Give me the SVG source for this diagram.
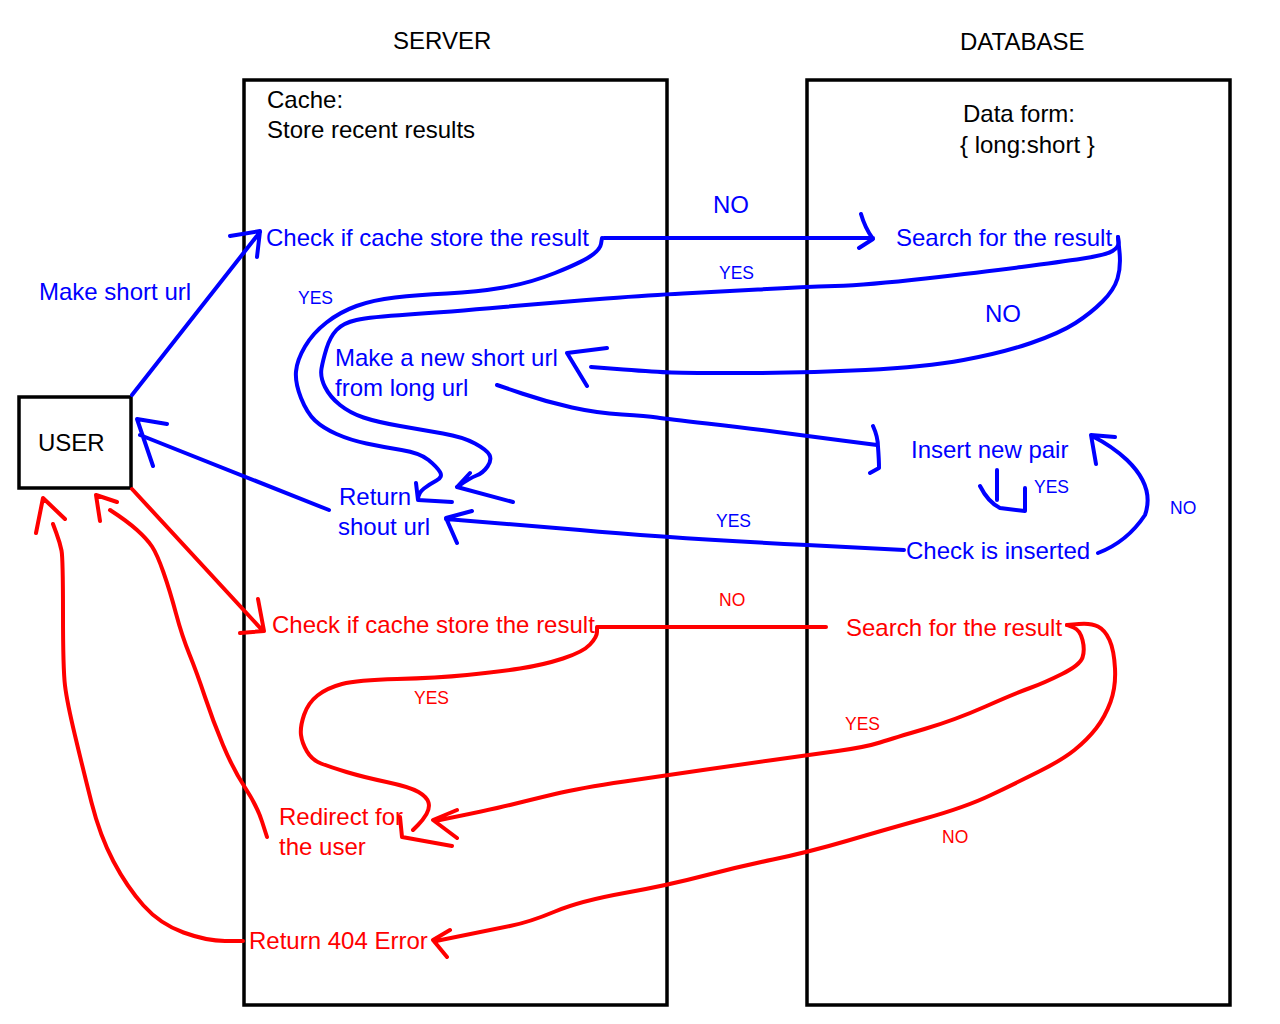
<svg xmlns="http://www.w3.org/2000/svg" width="1280" height="1024" viewBox="0 0 1280 1024">
<style>
text{font-family:"Liberation Sans",Arial,sans-serif;font-size:24px}
.k{fill:#000}
.bt{fill:#0000ff}
.rt{fill:#ff0000}
.s{font-size:17.5px}
.box{fill:none;stroke:#000;stroke-width:3.5}
.b{fill:none;stroke:#0000ff;stroke-width:4;stroke-linecap:round;stroke-linejoin:round}
.r{fill:none;stroke:#ff0000;stroke-width:4;stroke-linecap:round;stroke-linejoin:round}
</style>
<rect width="1280" height="1024" fill="#fff"/>
<g id="server">
<rect class="box" x="244" y="80" width="423" height="925"/>
<text class="k" x="393" y="49">SERVER</text>
<text class="k" x="267" y="108">Cache:</text>
<text class="k" x="267" y="138">Store recent results</text>
</g>
<g id="database">
<rect class="box" x="807" y="80" width="423" height="925"/>
<text class="k" x="960" y="50">DATABASE</text>
<text class="k" x="963" y="122">Data form:</text>
<text class="k" x="960" y="153">{ long:short }</text>
</g>
<g id="user">
<rect class="box" x="19" y="397" width="112" height="91"/>
<text class="k" x="38" y="451">USER</text>
</g>
<g id="blue-nodes">
<text class="bt" x="39" y="300">Make short url</text>
<text class="bt" x="266" y="246">Check if cache store the result</text>
<text class="bt" x="896" y="246">Search for the result</text>
<text class="bt" x="335" y="366">Make a new short url</text>
<text class="bt" x="335" y="396">from long url</text>
<text class="bt" x="911" y="458">Insert new pair</text>
<text class="bt" x="339" y="505">Return</text>
<text class="bt" x="338" y="535">shout url</text>
<text class="bt" x="906" y="559">Check is inserted</text>
</g>
<g id="red-nodes">
<text class="rt" x="272" y="633">Check if cache store the result</text>
<text class="rt" x="846" y="636">Search for the result</text>
<text class="rt" x="279" y="825">Redirect for</text>
<text class="rt" x="279" y="855">the user</text>
<text class="rt" x="249" y="949">Return 404 Error</text>
</g>
<g id="labels">
<text class="bt" x="713" y="213">NO</text>
<text class="bt s" x="719" y="279">YES</text>
<text class="bt s" x="298" y="304">YES</text>
<text class="bt" x="985" y="322">NO</text>
<text class="bt s" x="1034" y="493">YES</text>
<text class="bt s" x="1170" y="514">NO</text>
<text class="bt s" x="716" y="527">YES</text>
<text class="rt s" x="719" y="606">NO</text>
<text class="rt s" x="414" y="704">YES</text>
<text class="rt s" x="845" y="730">YES</text>
<text class="rt s" x="942" y="843">NO</text>
</g>
<g id="connectors">
<!-- blue -->
<path class="b" d="M132,395 L260,232 M230,236 L260,231 L257,257"/>
<path class="b" d="M604,238 L873,238 M861,214 Q865,228 873,239 L859,248"/>
<path class="b" d="M602,238 L601,244 Q600,250 590,256.5 Q580,263 555,273 Q530,283 503.5,287.5 Q477,292 447,293.5 Q417,295 395,297.5 Q373,300 356.5,306 Q340,312 326.5,322.5 Q313,333 305,346.5 Q297,360 296,371.5 Q295,383 301,398 Q307,413 315,420.5 Q323,428 336.5,434 Q350,440 366.5,443.5 Q383,447 401.5,450 Q420,453 428.5,460 Q437,467 440,472 Q443,477 436.5,480.5 Q430,484 424,488.5 Q418,493 418,500 M416,483 L418,500 L452,502"/>
<path class="b" d="M1118,237 L1118.5,242 Q1119,247 1112.5,251 Q1106,255 1083,258.5 Q1060,262 1021.5,267 Q983,272 925.5,278.5 Q868,285 835,286 Q802,287 758,289.5 Q714,292 683,293.5 Q652,295 606,298.5 Q560,302 503.5,307 Q447,312 408.5,314.5 Q370,317 356.5,320 Q343,323 336.5,330 Q330,337 326.5,348.5 Q323,360 321.5,368.5 Q320,377 325,387 Q330,397 340,405 Q350,413 363.5,417.5 Q377,422 400,426 Q423,430 443,433.5 Q463,437 475,443.5 Q487,450 489.5,455 Q492,460 487.5,466.5 Q483,473 476.5,475.5 Q470,478 457,487 M470,473 L457,487 L513,502"/>
<path class="b" d="M1118,237 L1119.5,252 Q1121,267 1117.5,278.5 Q1114,290 1102.5,301.5 Q1091,313 1075.5,323 Q1060,333 1031,343 Q1002,353 963.5,360 Q925,367 865.5,370 Q806,373 746.5,373 Q687,373 671.5,372.5 Q656,372 623.5,369.5 L591,367 M607,348 L567,353 L587,386"/>
<path class="b" d="M497,385 L522,393.5 Q547,402 572,407.5 Q597,413 622,414.5 Q647,416 657,417.5 Q667,419 707,423.5 Q747,428 777,432 Q807,436 842,440.5 L877,445 M873,426 Q878,437 878,447 Q879,460 879,468 L870,473"/>
<path class="b" d="M997,470 L997,500 M980,486 Q988,502 1000,508 L1025,511 L1025,488"/>
<path class="b" d="M1098,553 Q1127,542 1145,515 Q1155,487 1127,460 Q1112,446 1092,436 M1115,437 L1091,435 L1096,464"/>
<path class="b" d="M904,550 L807,545 Q667,538 580,530 L446,519 M472,511 L446,518 L457,543"/>
<path class="b" d="M329,510 L140,435 M167,424 L137,419 L153,466"/>
<!-- red -->
<path class="r" d="M132,489 L263,631 M258,599 L264,631 L240,633"/>
<path class="r" d="M598,627 L826,627"/>
<path class="r" d="M597,627 L597,632 Q597,637 590,644.5 Q583,652 563,658.5 Q543,665 520,668.5 Q497,672 467,675 Q437,678 397,679 Q357,680 342,684 Q327,688 317.5,695.5 Q308,703 304,715 Q300,727 301,735 Q302,743 307,751.5 Q312,760 321,763.5 Q330,767 346.5,772 Q363,777 386.5,782 Q410,787 418.5,792 Q427,797 428.5,802.5 Q430,808 426.5,814 Q423,820 418,825 L413,830 M400,817 L402,837 L452,846"/>
<path class="r" d="M1067,625 L1073.5,627.5 Q1080,630 1082.5,640 Q1085,650 1082.5,657.5 Q1080,665 1062,674 Q1044,683 1030,688 Q1016,693 985.5,706.5 Q955,720 924.5,729 Q894,738 880,742.5 Q866,747 837.5,751 Q809,755 773,760 Q737,765 703,770 Q669,775 624.5,781.5 Q580,788 555,794 Q530,800 510,805 Q490,810 435,821 M457,810 L433,820 L457,838"/>
<path class="r" d="M1067,625 L1079,624 Q1091,623 1098,626.5 Q1105,630 1109.5,640 Q1114,650 1115,668.5 Q1116,687 1110.5,702 Q1105,717 1096,728.5 Q1087,740 1074.5,750 Q1062,760 1039,771.5 Q1016,783 991,795 Q966,807 925,818.5 Q884,830 846.5,841 Q809,852 773,859.5 Q737,867 703,876 Q669,885 624.5,893 Q580,901 555,911.5 Q530,922 510,926 Q490,930 436,941 M450,930 L433,940 L447,957"/>
<path class="r" d="M267,837 L262,821.5 Q257,806 245,787.5 Q233,769 223,745 Q213,721 205,697 Q197,673 189.5,654.5 Q182,636 176,613.5 Q170,591 163.5,572.5 Q157,554 152,546.5 Q147,539 137,530 Q127,521 110,510 M100,521 L96,495 L117,502"/>
<path class="r" d="M243,941 L225,941 Q207,941 183.5,932.5 Q160,924 143.5,905.5 Q127,887 113.5,861.5 Q100,836 91.5,802.5 Q83,769 75,735.5 Q67,702 65,685.5 Q63,669 63,613.5 Q63,558 61.5,550.5 Q60,543 56.5,533.5 L53,524 M36,533 L43,498 L65,519"/>
</g>
</svg>
